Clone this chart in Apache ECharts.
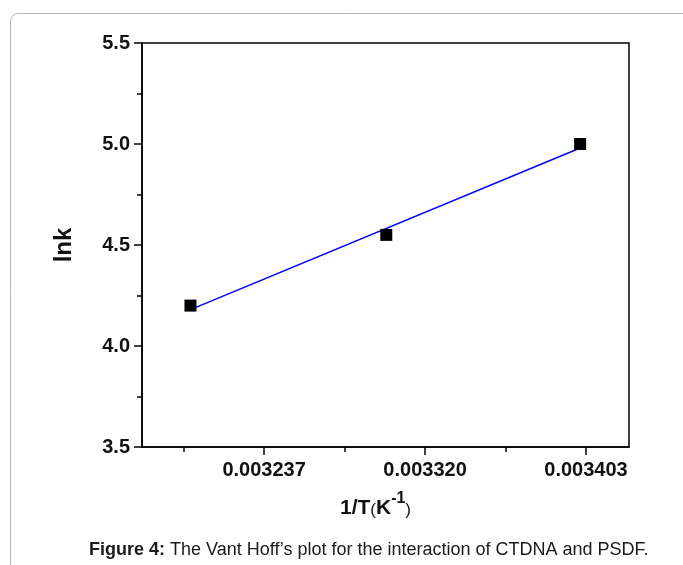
<!DOCTYPE html>
<html>
<head>
<meta charset="utf-8">
<script src="https://cdn.jsdelivr.net/npm/echarts@6/dist/echarts.min.js"></script>
<style>
  html, body { margin: 0; padding: 0; background: #fff; }
  #chart { width: 683px; height: 565px; }
</style>
</head>
<body>
<div id="chart"></div>
<script>
  // measured points (1/T, lnk)
  var invT = [0.003199, 0.003300, 0.003400]
  var lnk = [4.20, 4.55, 5.00]
  // linear fit line at its two ends
  var fitX = [0.003199, 0.003400]
  var fitY = [4.18, 4.98]
  // x axis tick positions
  var majorTicks = [0.003237, 0.003320, 0.003403]
  var minorTicks = [0.0031955, 0.0032785, 0.0033615]

  var font = 'Liberation Sans, Arial, sans-serif'
  var chart = echarts.init(document.getElementById('chart'))

  var points = invT.map(function (x, i) { return [x, lnk[i]] })
  var fit = fitX.map(function (x, i) { return [x, fitY[i]] })

  var option = {
    backgroundColor: '#fff',
    animation: false,
    grid: {
      left: 142, right: 54, top: 43, bottom: 118,
      show: true, borderColor: '#000', borderWidth: 1.5
    },
    xAxis: [{
      type: 'value',
      min: 0.003174,
      max: 0.0034252,
      axisLine: { show: true, onZero: false, lineStyle: { color: '#000', width: 1.5 } },
      axisTick: { show: true, customValues: majorTicks, length: 8, lineStyle: { color: '#000', width: 1.5 } },
      axisLabel: {
        customValues: majorTicks,
        color: '#111', fontFamily: font, fontWeight: 'bold', fontSize: 20, margin: 13,
        formatter: function (v) { return v.toFixed(6) }
      },
      splitLine: { show: false },
      name: '{b|1/T}{n|(}{b|K}{s|-1}{n|)}',
      nameLocation: 'middle',
      nameGap: 44,
      nameTextStyle: {
        padding: [0, 20, 0, 0],
        rich: {
          b: { fontFamily: font, fontWeight: 'bold', fontSize: 21, color: '#111', verticalAlign: 'bottom' },
          n: { fontFamily: font, fontSize: 17, color: '#111', verticalAlign: 'bottom' },
          s: { fontFamily: font, fontWeight: 'bold', fontSize: 16, color: '#111', verticalAlign: 'top', padding: [0, 0, 12, 0] }
        }
      }
    }, {
      type: 'value',
      position: 'bottom',
      min: 0.003174,
      max: 0.0034252,
      axisLine: { show: false },
      axisTick: { show: true, customValues: minorTicks, length: 5, lineStyle: { color: '#000', width: 1.5 } },
      axisLabel: { show: false },
      splitLine: { show: false }
    }],
    yAxis: {
      type: 'value',
      min: 3.5,
      max: 5.5,
      interval: 0.5,
      axisLine: { show: true, lineStyle: { color: '#000', width: 1.5 } },
      axisTick: { show: true, length: 8, lineStyle: { color: '#000', width: 1.5 } },
      minorTick: { show: true, splitNumber: 2, length: 5, lineStyle: { color: '#000', width: 1.5 } },
      axisLabel: {
        color: '#111', fontFamily: font, fontWeight: 'bold', fontSize: 20, margin: 12,
        formatter: function (v) { return v.toFixed(1) }
      },
      splitLine: { show: false },
      name: 'lnk',
      nameLocation: 'middle',
      nameGap: 66,
      nameTextStyle: { fontFamily: font, fontWeight: 'bold', fontSize: 24, color: '#111' }
    },
    series: [{
      type: 'line',
      data: fit,
      symbol: 'none',
      lineStyle: { color: '#0000ff', width: 1.5 },
      z: 2
    }, {
      type: 'scatter',
      data: points,
      symbol: 'rect',
      symbolSize: 12,
      itemStyle: { color: '#000', opacity: 1 },
      z: 3
    }],
    graphic: [{
      type: 'rect',
      shape: { x: 10.5, y: 13.5, width: 720, height: 620, r: 8 },
      style: { fill: 'none', stroke: '#b5b5b5', lineWidth: 1 },
      silent: true,
      z: -1
    }, {
      type: 'text',
      left: 89,
      top: 541,
      style: {
        text: '{b|Figure 4:} The Vant Hoff’s plot for the interaction of CTDNA and PSDF.',
        fontFamily: font, fontSize: 18, fill: '#1a1a1a',
        rich: { b: { fontFamily: font, fontWeight: 'bold', fontSize: 18, fill: '#1a1a1a' } }
      }
    }]
  }

  chart.setOption(option)
</script>
</body>
</html>
